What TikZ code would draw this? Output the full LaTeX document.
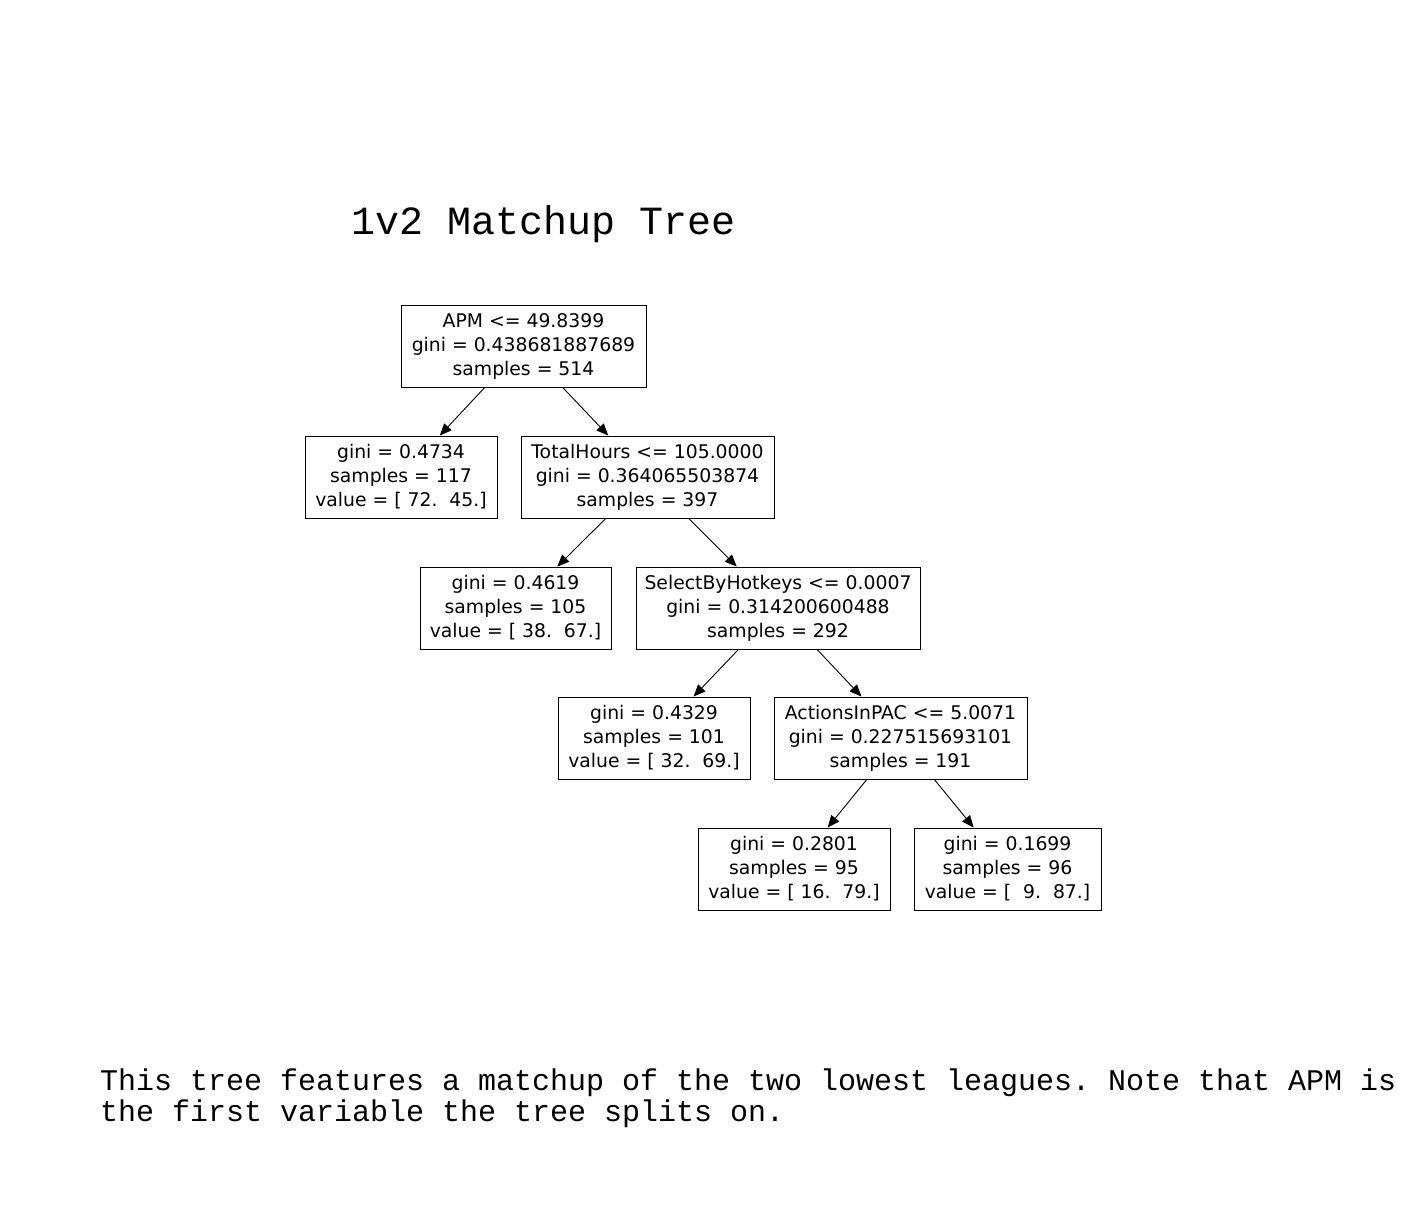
\documentclass[tikz,border=0pt]{standalone}
\usepackage{fontspec}
\usetikzlibrary{arrows.meta}
\newfontfamily\boxfont{DejaVu Sans}
\newfontfamily\codefont{Liberation Mono}
\frenchspacing
\begin{document}
\begin{tikzpicture}[x=1pt,y=-1pt,
  split/.style={draw=black, line width=0.9pt, rectangle, inner sep=0pt,
    minimum height=82pt, align=center,
    font=\boxfont\fontsize{18.8}{24}\selectfont},
  edge/.style={line width=0.9pt, -{Triangle[length=12pt,width=10pt]}}]
  \fill[white] (0,0) rectangle (1407,1216);
  \useasboundingbox (0,0) rectangle (1407,1216);

  % title
  \node[anchor=base west, inner sep=0pt, font=\codefont\fontsize{40}{44}\selectfont]
    (title) at (351,234) {1v2 Matchup Tree};

  % tree nodes
  \node[split, minimum width=245pt] (root) at (523.5,346)
    {APM <= 49.8399\\gini = 0.438681887689\\samples = 514};
  \node[split, minimum width=192pt] (l1) at (401,477)
    {gini = 0.4734\\samples = 117\\value = [~72.~~45.]};
  \node[split, minimum width=253pt] (r1) at (647.5,477)
    {TotalHours <= 105.0000\\gini = 0.364065503874\\samples = 397};
  \node[split, minimum width=191pt] (l2) at (515.5,608)
    {gini = 0.4619\\samples = 105\\value = [~38.~~67.]};
  \node[split, minimum width=284pt] (r2) at (778,608)
    {SelectByHotkeys <= 0.0007\\gini = 0.314200600488\\samples = 292};
  \node[split, minimum width=192pt] (l3) at (654,738)
    {gini = 0.4329\\samples = 101\\value = [~32.~~69.]};
  \node[split, minimum width=253pt] (r3) at (900.5,738)
    {ActionsInPAC <= 5.0071\\gini = 0.227515693101\\samples = 191};
  \node[split, minimum width=192pt] (l4) at (794,869)
    {gini = 0.2801\\samples = 95\\value = [~16.~~79.]};
  \node[split, minimum width=187pt] (r4) at (1007.5,869)
    {gini = 0.1699\\samples = 96\\value = [~~9.~~87.]};

  % connectors
  \draw[edge] (root) -- (l1);
  \draw[edge] (root) -- (r1);
  \draw[edge] (r1) -- (l2);
  \draw[edge] (r1) -- (r2);
  \draw[edge] (r2) -- (l3);
  \draw[edge] (r2) -- (r3);
  \draw[edge] (r3) -- (l4);
  \draw[edge] (r3) -- (r4);

  % caption (base anchor sits on the last line)
  \node[anchor=base west, inner sep=0pt, align=left,
        font=\codefont\fontsize{30}{31}\selectfont] (caption) at (100,1121)
    {This tree features a matchup of the two lowest leagues. Note that APM is\\
     the first variable the tree splits on.};
\end{tikzpicture}
\end{document}
